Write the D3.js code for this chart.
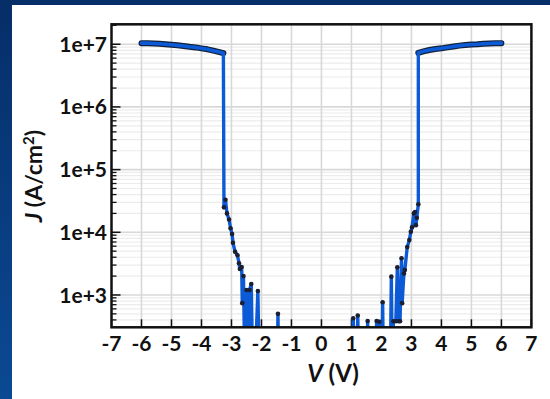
<!DOCTYPE html>
<html>
<head>
<meta charset="utf-8">
<script src="https://cdn.jsdelivr.net/npm/d3@7"></script>
<style>
  html, body { margin: 0; padding: 0; background: #fff; }
  svg { display: block; }
  text { font-family: Lato, "Open Sans", sans-serif; font-weight: 700; fill: #111; }
</style>
</head>
<body>
<svg id="chart" width="550" height="399"></svg>
<script>
// ---- data ----
const xTicks = [-7, -6, -5, -4, -3, -2, -1, 0, 1, 2, 3, 4, 5, 6, 7];
const yTicks = [1e3, 1e4, 1e5, 1e6, 1e7];
const yTickLabels = ["1e+3", "1e+4", "1e+5", "1e+6", "1e+7"];

// high-current (ON) branch, negative side
const negHighV = [-6.0, -5.8, -5.6, -5.4, -5.2, -5.0, -4.8, -4.6, -4.4, -4.2, -4.0, -3.8, -3.6, -3.4, -3.27];
const negHighJ = [1.04e7, 1.04e7, 1.03e7, 1.02e7, 1.0e7, 9.8e6, 9.6e6, 9.4e6, 9.1e6, 8.9e6, 8.6e6, 8.3e6, 7.9e6, 7.5e6, 7.2e6];
// low-current branch, negative side (values below the axis floor are drawn clipped)
const negLowV = [-3.27, -3.25, -3.2, -3.15, -3.08, -3.03, -2.98, -2.95, -2.88, -2.8, -2.75, -2.72, -2.66, -2.64, -2.6, -2.56, -2.5, -2.46, -2.4, -2.34, -2.3, -2.2, -2.12, -2.08, -1.47, -1.45, -1.43];
const negLowJ = [7.2e6, 2.5e4, 3.3e4, 2.0e4, 1.6e4, 1.16e4, 9.4e3, 6.8e3, 4.9e3, 4.3e3, 3.2e3, 2.6e3, 2.8e3, 740, 2.0e3, 100, 1.2e3, 100, 1.2e3, 1.5e3, 100, 100, 1.16e3, 100, 100, 500, 100];
// low-current branch, positive side
const posLowV = [1.04, 1.06, 1.09, 1.19, 1.21, 1.24, 1.52, 1.54, 1.56, 1.82, 1.84, 1.93, 1.95, 2.02, 2.04, 2.06, 2.3, 2.33, 2.36, 2.4, 2.48, 2.53, 2.57, 2.62, 2.67, 2.69, 2.75, 2.78, 2.86, 2.93, 2.98, 3.02, 3.08, 3.12, 3.15, 3.18, 3.23, 3.23];
const posLowJ = [100, 425, 100, 100, 470, 100, 100, 385, 100, 100, 385, 375, 100, 100, 765, 100, 100, 1960, 100, 380, 380, 2760, 380, 380, 3850, 740, 2200, 2500, 5800, 7500, 1.02e4, 1.2e4, 2.0e4, 2.1e4, 1.3e4, 1.7e4, 2.8e4, 7.3e6];
// high-current (ON) branch, positive side
const posHighV = [3.23, 3.4, 3.6, 3.8, 4.0, 4.2, 4.4, 4.6, 4.8, 5.0, 5.2, 5.4, 5.6, 5.8, 6.0];
const posHighJ = [7.3e6, 7.7e6, 8.1e6, 8.4e6, 8.6e6, 8.9e6, 9.2e6, 9.5e6, 9.7e6, 9.9e6, 1.0e7, 1.02e7, 1.03e7, 1.04e7, 1.04e7];

// ---- layout ----
const svg = d3.select("#chart");
const W = 550, H = 399;
const L = 111.5, R = 531.4, T = 24.3, B = 327.3;

// background frame (blue band on top and left)
const defs = svg.append("defs");
const grad = defs.append("linearGradient").attr("id", "lg").attr("x1", 0).attr("y1", 0).attr("x2", 0).attr("y2", 1);
grad.append("stop").attr("offset", "0%").attr("stop-color", "#062e68");
grad.append("stop").attr("offset", "100%").attr("stop-color", "#0b4994");
svg.append("rect").attr("x", 0).attr("y", 0).attr("width", W).attr("height", H).attr("fill", "url(#lg)");
svg.append("rect").attr("x", 0).attr("y", 0).attr("width", W).attr("height", 5).attr("fill", "#062e68");
svg.append("rect").attr("x", 12).attr("y", 5).attr("width", W - 12).attr("height", H - 5).attr("fill", "#ffffff");

defs.append("clipPath").attr("id", "clip").append("rect")
  .attr("x", L).attr("y", T).attr("width", R - L).attr("height", B - T);

const x = d3.scaleLinear().domain([-7, 7]).range([L, R]);
const y = d3.scaleLog().domain([305, 2.08e7]).range([B, T]);

// grid
const g = svg.append("g");
const minor = [];
[100, 1e3, 1e4, 1e5, 1e6, 1e7].forEach(d => { for (let k = 2; k <= 9; k++) { const v = d * k; if (v > 305 && v < 2.08e7) minor.push(v); } });
g.selectAll(".hmin").data(minor).join("line")
  .attr("x1", L).attr("x2", R).attr("y1", d => y(d)).attr("y2", d => y(d))
  .attr("stroke", "#ececec").attr("stroke-width", 1.2);
g.selectAll(".hmaj").data(yTicks).join("line")
  .attr("x1", L).attr("x2", R).attr("y1", d => y(d)).attr("y2", d => y(d))
  .attr("stroke", "#d8d8d8").attr("stroke-width", 1.6);
g.selectAll(".vmaj").data(xTicks.slice(1, -1)).join("line")
  .attr("x1", d => x(d)).attr("x2", d => x(d)).attr("y1", T).attr("y2", B)
  .attr("stroke", "#d8d8d8").attr("stroke-width", 1.6);

// ticks (inside)
g.selectAll(".ytmin").data(minor).join("line")
  .attr("x1", L).attr("x2", L + 5).attr("y1", d => y(d)).attr("y2", d => y(d))
  .attr("stroke", "#111").attr("stroke-width", 1.3);
g.selectAll(".ytmaj").data(yTicks).join("line")
  .attr("x1", L).attr("x2", L + 9).attr("y1", d => y(d)).attr("y2", d => y(d))
  .attr("stroke", "#111").attr("stroke-width", 1.5);
g.selectAll(".xt").data(xTicks).join("line")
  .attr("x1", d => x(d)).attr("x2", d => x(d)).attr("y1", B).attr("y2", B - 8)
  .attr("stroke", "#111").attr("stroke-width", 1.5);

// data
const line = d3.line().x(d => x(d[0])).y(d => y(Math.max(d[1], 50)));
const zip = (a, b) => a.map((v, i) => [v, b[i]]);
const negHigh = zip(negHighV, negHighJ), posHigh = zip(posHighV, posHighJ);
const negLow = zip(negLowV, negLowJ), posLow = zip(posLowV, posLowJ);
const dg = svg.append("g").attr("clip-path", "url(#clip)");

[negHigh, posHigh].forEach(s => {
  dg.append("path").attr("d", line(s)).attr("fill", "none").attr("stroke", "#14203a")
    .attr("stroke-width", 6).attr("stroke-linecap", "round").attr("stroke-linejoin", "round");
});
[negLow, posLow].forEach(s => {
  dg.append("path").attr("d", line(s)).attr("fill", "none").attr("stroke", "#0d5ad6")
    .attr("stroke-width", 3.4).attr("stroke-linejoin", "round");
});
[negHigh, posHigh].forEach(s => {
  dg.append("path").attr("d", line(s)).attr("fill", "none").attr("stroke", "#0d5ad6")
    .attr("stroke-width", 3.6).attr("stroke-linecap", "round").attr("stroke-linejoin", "round");
});
const pts = negLow.concat(posLow).filter(d => d[1] >= 305 && d[1] < 1e6);
dg.selectAll(".pt").data(pts).join("circle")
  .attr("cx", d => x(d[0])).attr("cy", d => y(d[1])).attr("r", 2.3)
  .attr("fill", "#1a1f33");

// frame
svg.append("rect").attr("x", L).attr("y", T).attr("width", R - L).attr("height", B - T)
  .attr("fill", "none").attr("stroke", "#111").attr("stroke-width", 2.5);

// tick labels
svg.selectAll(".yl").data(yTicks).join("text")
  .attr("x", L - 4.5).attr("y", d => y(d)).attr("dy", "0.36em")
  .attr("text-anchor", "end").attr("font-size", 21).text((d, i) => yTickLabels[i]);
svg.selectAll(".xl").data(xTicks).join("text")
  .attr("x", d => x(d)).attr("y", 351)
  .attr("text-anchor", "middle").attr("font-size", 21).text(d => d);

// axis titles
const xt = svg.append("text").attr("x", 333).attr("y", 382).attr("text-anchor", "middle").attr("font-size", 24);
xt.append("tspan").attr("font-style", "italic").text("V");
xt.append("tspan").text(" (V)");

const yt = svg.append("text").attr("transform", "translate(42,176) rotate(-90)")
  .attr("text-anchor", "middle").attr("font-size", 23);
yt.append("tspan").attr("font-style", "italic").text("J");
yt.append("tspan").text(" (A/cm");
yt.append("tspan").attr("font-size", 15).attr("dy", -8).text("2");
yt.append("tspan").attr("dy", 8).text(")");
</script>
</body>
</html>
